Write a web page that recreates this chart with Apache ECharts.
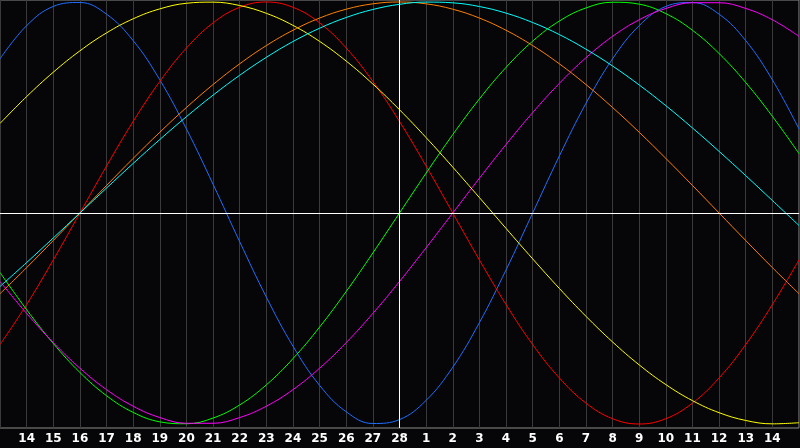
<!DOCTYPE html>
<html><head><meta charset="utf-8">
<script src="https://cdn.jsdelivr.net/npm/echarts@6/dist/echarts.min.js"></script>
<style>html,body{margin:0;padding:0;background:#060608;}#c{width:800px;height:448px;}</style>
</head><body><div id="c"></div>
<script>
var days = ['13','14','15','16','17','18','19','20','21','22','23','24','25','26','27','28','1','2','3','4','5','6','7','8','9','10','11','12','13','14','15'];
var physical = [73.08,88.79,97.91,99.77,94.23,81.70,63.11,39.84,13.62,-13.62,-39.84,-63.11,-81.70,-94.23,-99.77,-97.91,-88.79,-73.08,-51.96,-26.98,0,26.98,51.96,73.08,88.79,97.91,99.77,94.23,81.70,63.11,39.84];
var emotional = [-62.35,-43.39,-22.25,0,22.25,43.39,62.35,78.18,90.10,97.49,100,97.49,90.10,78.18,62.35,43.39,22.25,0,-22.25,-43.39,-62.35,-78.18,-90.10,-97.49,-100,-97.49,-90.10,-78.18,-62.35,-43.39,-22.25];
var intellectual = [-28.17,-45.82,-61.82,-75.57,-86.60,-94.50,-98.98,-99.89,-97.18,-90.96,-81.46,-69.01,-54.06,-37.17,-18.93,0,18.93,37.17,54.06,69.01,81.46,90.96,97.18,99.89,98.98,94.50,86.60,75.57,61.82,45.82,28.17];
var intuitive = [-32.47,-47.59,-61.42,-73.57,-83.72,-91.58,-96.94,-99.66,-99.66,-96.94,-91.58,-83.72,-73.57,-61.42,-47.59,-32.47,-16.46,0,16.46,32.47,47.59,61.42,73.57,83.72,91.58,96.94,99.66,99.66,96.94,91.58,83.72];
var aesthetic = [42.44,55.18,66.72,76.85,85.36,92.04,96.74,99.40,99.93,98.33,94.64,88.93,81.33,71.99,61.12,48.94,35.72,21.74,7.30,-7.30,-21.74,-35.72,-48.94,-61.12,-71.99,-81.33,-88.93,-94.64,-98.33,-99.93,-99.40];
var awareness = [-38.27,-25.88,-13.05,0,13.05,25.88,38.27,50,60.88,70.71,79.34,86.60,92.39,96.59,99.14,100,99.14,96.59,92.39,86.60,79.34,70.71,60.88,50,38.27,25.88,13.05,0,-13.05,-25.88,-38.27];
var spiritual = [-34.82,-23.49,-11.83,0,11.83,23.49,34.82,45.66,55.86,65.28,73.78,81.26,87.57,92.67,96.46,98.90,99.96,99.61,97.86,94.73,90.28,84.57,77.64,69.66,60.68,50.86,40.30,29.20,17.69,5.92,-5.92];

var seriesDefs = [
  {name:'Physical', data:physical, color:'#1f6fff'},
  {name:'Emotional', data:emotional, color:'#ff0000'},
  {name:'Intellectual', data:intellectual, color:'#00ff00'},
  {name:'Intuitive', data:intuitive, color:'#ff00ff'},
  {name:'Aesthetic', data:aesthetic, color:'#ffff00'},
  {name:'Awareness', data:awareness, color:'#ff8000'},
  {name:'Spiritual', data:spiritual, color:'#00ffff'}
];
var todayIndex = 15;

var chart = echarts.init(document.getElementById('c'), null, {renderer:'canvas'});
var series = [{
  type:'line', data:[], silent:true, z:1,
  markLine:{silent:true, symbol:'none', label:{show:false},
    lineStyle:{color:'#ffffff', width:1, type:'solid'},
    data:[{yAxis:0},{xAxis:todayIndex}]}
}];
seriesDefs.forEach(function(s){
  series.push({type:'line', name:s.name, data:s.data, smooth:0.4, showSymbol:false, symbol:'none',
    lineStyle:{color:s.color, width:1}, itemStyle:{color:s.color}, z:2, animation:false});
});
chart.setOption({
  backgroundColor:'#060608',
  animation:false,
  grid:{left:0, top:0, width:799, height:428, show:true, borderColor:'#8c8c8c', borderWidth:1, backgroundColor:'transparent'},
  xAxis:{type:'category', data:days, boundaryGap:false,
    axisLine:{show:true, lineStyle:{color:'#8c8c8c'}},
    axisTick:{show:false},
    splitLine:{show:true, interval:0, lineStyle:{color:'#3a3a3a', width:1}},
    axisLabel:{color:'#ffffff', fontWeight:'bold', fontSize:12, fontFamily:'DejaVu Sans', margin:5,
      interval:function(i){return i>0 && i<days.length-1;}}
  },
  yAxis:{type:'value', min:-101.9, max:100.95, show:true,
    axisLine:{show:false}, axisTick:{show:false}, axisLabel:{show:false}, splitLine:{show:false}},
  series:series
});
</script></body></html>
